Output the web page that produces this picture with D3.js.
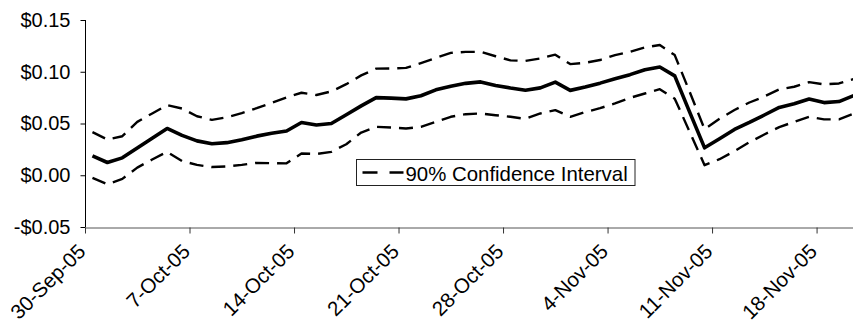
<!DOCTYPE html>
<html>
<head>
<meta charset="utf-8">
<script src="https://cdn.jsdelivr.net/npm/d3@7"></script>
<style>
  html, body { margin: 0; padding: 0; background: #fff; }
  svg { display: block; font-family: "Liberation Sans", Arial, sans-serif; }
</style>
</head>
<body>
<svg id="chart" width="853" height="324"></svg>
<script>
// Daily observation dates
const dates = [
  "2005-09-30","2005-10-01","2005-10-02","2005-10-03","2005-10-04","2005-10-05","2005-10-06",
  "2005-10-07","2005-10-08","2005-10-09","2005-10-10","2005-10-11","2005-10-12","2005-10-13",
  "2005-10-14","2005-10-15","2005-10-16","2005-10-17","2005-10-18","2005-10-19","2005-10-20",
  "2005-10-21","2005-10-22","2005-10-23","2005-10-24","2005-10-25","2005-10-26","2005-10-27",
  "2005-10-28","2005-10-29","2005-10-30","2005-10-31","2005-11-01","2005-11-02","2005-11-03",
  "2005-11-04","2005-11-05","2005-11-06","2005-11-07","2005-11-08","2005-11-09","2005-11-10",
  "2005-11-11","2005-11-12","2005-11-13","2005-11-14","2005-11-15","2005-11-16","2005-11-17",
  "2005-11-18","2005-11-19","2005-11-20"
];

// Point estimate ($)
const estimate = [
  0.0187, 0.0123, 0.0168, 0.0263, 0.0358, 0.0452, 0.0385,
  0.0332, 0.0305, 0.0315, 0.0343, 0.0378, 0.0405, 0.0428,
  0.0510, 0.0486, 0.0500, 0.0585, 0.0670, 0.0750, 0.0745,
  0.0738, 0.0768, 0.0825, 0.0860, 0.0888, 0.0902, 0.0868,
  0.0843, 0.0822, 0.0844, 0.0900, 0.0820, 0.0852, 0.0890,
  0.0932, 0.0972, 0.1020, 0.1046, 0.0960, 0.0610, 0.0265,
  0.0352, 0.0443, 0.0510, 0.0582, 0.0655, 0.0690, 0.0737,
  0.0702, 0.0712, 0.0770
];

// Upper bound of the 90% confidence interval ($)
const upper = [
  0.0416, 0.0345, 0.0377, 0.0516, 0.0597, 0.0677, 0.0645,
  0.0570, 0.0535, 0.0560, 0.0600, 0.0648, 0.0700, 0.0752,
  0.0797, 0.0775, 0.0810, 0.0880, 0.0965, 0.1030, 0.1032,
  0.1037, 0.1084, 0.1134, 0.1182, 0.1192, 0.1192, 0.1150,
  0.1110, 0.1105, 0.1129, 0.1165, 0.1074, 0.1087, 0.1113,
  0.1161, 0.1193, 0.1235, 0.1258, 0.1161, 0.0806, 0.0445,
  0.0545, 0.0630, 0.0703, 0.0761, 0.0830, 0.0855, 0.0900,
  0.0878, 0.0887, 0.0930
];

// Lower bound of the 90% confidence interval ($)
const lower = [
  -0.0026, -0.0087, -0.0035, 0.0074, 0.0152, 0.0226, 0.0137,
  0.0100, 0.0079, 0.0085, 0.0100, 0.0120, 0.0117, 0.0115,
  0.0210, 0.0205, 0.0226, 0.0300, 0.0413, 0.0468, 0.0461,
  0.0452, 0.0468, 0.0516, 0.0565, 0.0590, 0.0597, 0.0580,
  0.0565, 0.0545, 0.0597, 0.0629, 0.0565, 0.0610, 0.0648,
  0.0694, 0.0748, 0.0790, 0.0832, 0.0740, 0.0420, 0.0097,
  0.0155, 0.0232, 0.0319, 0.0394, 0.0465, 0.0516, 0.0565,
  0.0540, 0.0540, 0.0597
];

// Axis ticks
const xTickDates = ["2005-09-30","2005-10-07","2005-10-14","2005-10-21","2005-10-28","2005-11-04","2005-11-11","2005-11-18"];
const yTickValues = [-0.05, 0.00, 0.05, 0.10, 0.15];
const legendLabel = "90% Confidence Interval";

const parse = d3.utcParse("%Y-%m-%d");
const svg = d3.select("#chart");

const plotLeft = 85, plotTop = 20, plotBottom = 227;
const dayPx = 14.93;
const start = parse(dates[0]);
const endDomain = d3.utcDay.offset(start, 53);

const x = d3.scaleUtc()
  .domain([start, endDomain])
  .range([plotLeft, plotLeft + 53 * dayPx]);

const y = d3.scaleLinear()
  .domain([-0.05, 0.15])
  .range([plotBottom, plotTop]);

// Each observation is centred in its day slot
const xPoint = (s) => x(d3.utcHour.offset(parse(s), 12));

const fmtMoney = (v) => (v < 0 ? "-" : "") + "$" + Math.abs(v).toFixed(2);
const fmtDate = d3.utcFormat("%-d-%b-%y");

// Y axis
const yAxis = d3.axisLeft(y)
  .tickValues(yTickValues)
  .tickFormat(fmtMoney)
  .tickSizeInner(5)
  .tickSizeOuter(0)
  .tickPadding(10);

const gy = svg.append("g")
  .attr("transform", `translate(${plotLeft + 0.5},0)`)
  .call(yAxis);
gy.select(".domain").attr("stroke", "#000").attr("d", `M0,${plotTop}V${plotBottom}`);
gy.selectAll(".tick line").attr("stroke", "#000");
gy.selectAll(".tick text")
  .attr("fill", "#000")
  .style("font-size", "20px")
  .style("font-family", "'Liberation Sans', Arial, sans-serif");

// X axis
const xAxis = d3.axisBottom(x)
  .tickValues(xTickDates.map(parse))
  .tickFormat(fmtDate)
  .tickSizeInner(6)
  .tickSizeOuter(0);

const gx = svg.append("g")
  .attr("transform", `translate(0,${plotBottom + 0.5})`)
  .call(xAxis);
gx.select(".domain").attr("stroke", "#555");
gx.selectAll(".tick line").attr("stroke", "#333");
gx.selectAll(".tick text")
  .attr("fill", "#000")
  .style("font-size", "20.5px")
  .style("font-family", "'Liberation Sans', Arial, sans-serif")
  .attr("text-anchor", "end")
  .attr("y", 0)
  .attr("dy", "0.71em")
  .attr("transform", "translate(-9,15) rotate(-45)");

// Series
const line = (vals) => d3.line()
  .x((d, i) => xPoint(dates[i]))
  .y((d) => y(d))(vals);

const plot = svg.append("g");

plot.append("path")
  .attr("d", line(upper))
  .attr("fill", "none")
  .attr("stroke", "#000")
  .attr("stroke-width", 2.4)
  .attr("stroke-dasharray", "14,8")
  .attr("stroke-linejoin", "round");

plot.append("path")
  .attr("d", line(lower))
  .attr("fill", "none")
  .attr("stroke", "#000")
  .attr("stroke-width", 2.4)
  .attr("stroke-dasharray", "14,8")
  .attr("stroke-linejoin", "round");

plot.append("path")
  .attr("d", line(estimate))
  .attr("fill", "none")
  .attr("stroke", "#000")
  .attr("stroke-width", 3.6)
  .attr("stroke-linejoin", "round");

// Legend
const lg = svg.append("g").attr("transform", "translate(356.5,159.5)");
lg.append("rect")
  .attr("width", 278.5)
  .attr("height", 26)
  .attr("fill", "#fff")
  .attr("stroke", "#222")
  .attr("stroke-width", 1);
lg.append("line")
  .attr("x1", 6).attr("x2", 47)
  .attr("y1", 13).attr("y2", 13)
  .attr("stroke", "#000")
  .attr("stroke-width", 2.4)
  .attr("stroke-dasharray", "15,12");
lg.append("text")
  .attr("x", 49)
  .attr("y", 21.5)
  .style("font-size", "20.4px")
  .attr("fill", "#000")
  .text(legendLabel);
</script>
</body>
</html>
